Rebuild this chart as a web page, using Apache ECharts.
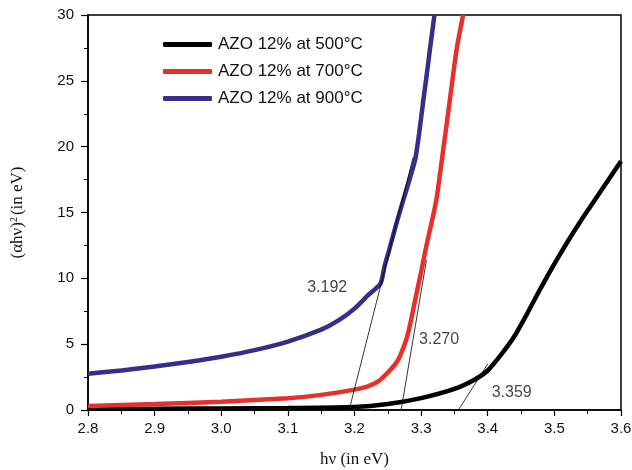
<!DOCTYPE html>
<html>
<head>
<meta charset="utf-8">
<script src="https://cdn.jsdelivr.net/npm/echarts@6/dist/echarts.min.js"></script>
<style>
html,body{margin:0;padding:0;background:#fff;}
#chart{width:632px;height:470px;}
</style>
</head>
<body>
<div id="chart"></div>
<script>
// Series names
var seriesNames = ['AZO 12% at 500°C', 'AZO 12% at 700°C', 'AZO 12% at 900°C'];
// 500°C (black)
var x500 = [2.8, 2.9, 3.0, 3.1, 3.2, 3.25, 3.3, 3.35, 3.38, 3.4, 3.42, 3.44, 3.46, 3.48, 3.5, 3.52, 3.54, 3.56, 3.58, 3.6];
var y500 = [0.1, 0.1, 0.12, 0.15, 0.22, 0.45, 0.9, 1.6, 2.3, 3.0, 4.2, 5.6, 7.4, 9.3, 11.1, 12.8, 14.4, 15.9, 17.4, 18.9];
// 700°C (red)
var x700 = [2.8, 2.9, 3.0, 3.1, 3.15, 3.2, 3.22, 3.235, 3.25, 3.263, 3.27, 3.278, 3.284, 3.29, 3.298, 3.308, 3.316, 3.323, 3.333, 3.343, 3.353, 3.363];
var y700 = [0.3, 0.45, 0.63, 0.9, 1.15, 1.55, 1.8, 2.15, 2.85, 3.6, 4.3, 5.4, 6.6, 8.1, 10.0, 12.5, 14.3, 16.0, 19.7, 23.5, 27.3, 30];
// 900°C (blue)
var x900 = [2.8, 2.85, 2.9, 2.95, 3.0, 3.05, 3.1, 3.15, 3.176, 3.2, 3.22, 3.239, 3.245, 3.252, 3.262, 3.273, 3.282, 3.291, 3.297, 3.303, 3.308, 3.313, 3.32];
var y900 = [2.75, 3.0, 3.3, 3.65, 4.05, 4.55, 5.2, 6.1, 6.8, 7.7, 8.7, 9.6, 10.9, 12.15, 14.0, 15.9, 17.4, 19.0, 21.0, 23.4, 25.3, 27.3, 30];
// Tangent (extrapolation) lines
var tanBlueX = [3.192, 3.288], tanBlueY = [0, 19.2];
var tanRedX = [3.270, 3.308], tanRedY = [0, 11.4];
var tanBlackX = [3.356, 3.400], tanBlackY = [0, 3.5];
// Band-gap annotations
var annoText = ['3.192', '3.270', '3.359'];
var annoX = [3.159, 3.327, 3.436];
var annoY = [9.26, 5.31, 1.29];
// Axis settings
var xMin = 2.8, xMax = 3.6, xStep = 0.1;
var yMin = 0, yMax = 30, yStep = 5;

function pairs(xs, ys) { return xs.map(function (x, i) { return [x, ys[i]]; }); }

var colors = ['#000000', '#e8302a', '#332f8a'];
var sansFont = '"Liberation Sans", Arial, sans-serif';
var serifFont = '"Liberation Serif", "Times New Roman", serif';

var chart = echarts.init(document.getElementById('chart'), null, {renderer: 'canvas'});

function mainSeries(name, xs, ys, color) {
  return {
    name: name, type: 'line', data: pairs(xs, ys), showSymbol: false, symbol: 'none',
    smooth: 0.2, lineStyle: {color: color, width: 4.5}, itemStyle: {color: color},
    clip: true, z: 3
  };
}
function tanSeries(xs, ys) {
  return {
    type: 'line', data: pairs(xs, ys), showSymbol: false, symbol: 'none',
    lineStyle: {color: '#000', width: 0.8}, silent: true, z: 4
  };
}

var option = {
  animation: false,
  backgroundColor: '#fff',
  grid: {left: 88, right: 11, top: 15, bottom: 60, outerBoundsMode: 'none', containLabel: false,
    show: true, borderColor: '#000', borderWidth: 1.5, backgroundColor: 'transparent'},
  legend: {
    data: seriesNames, orient: 'vertical', left: 158, top: 31,
    itemWidth: 49, itemHeight: 5, itemGap: 10, icon: 'roundRect',
    textStyle: {fontFamily: sansFont, fontSize: 17, color: '#111', padding: [0, 0, 0, 1]}
  },
  xAxis: {
    type: 'value', min: xMin, max: xMax, interval: xStep,
    name: 'hν (in eV)', nameLocation: 'middle', nameGap: 41,
    nameTextStyle: {fontFamily: serifFont, fontSize: 17, color: '#111'},
    axisLine: {show: true, lineStyle: {color: '#000', width: 1.5}},
    axisTick: {show: true, inside: false, length: 6, lineStyle: {color: '#000', width: 1.2}},
    minorTick: {show: true, splitNumber: 2, length: 4, lineStyle: {color: '#000', width: 1}},
    splitLine: {show: false},
    axisLabel: {fontFamily: sansFont, fontSize: 15, color: '#111', margin: 11,
      formatter: function (v) { return v.toFixed(1); }}
  },
  yAxis: {
    type: 'value', min: yMin, max: yMax, interval: yStep,
    name: '{n|(αhν)}{s|2}{n|(in eV)}', nameLocation: 'middle', nameGap: 61, nameRotate: 90,
    nameTextStyle: {fontFamily: serifFont, fontSize: 17, color: '#111',
      rich: {
        n: {fontFamily: serifFont, fontSize: 17, color: '#111'},
        s: {fontFamily: serifFont, fontSize: 10, color: '#111', verticalAlign: 'top', padding: [0, 2, 8, 0]}
      }},
    axisLine: {show: true, lineStyle: {color: '#000', width: 1.5}},
    axisTick: {show: true, inside: false, length: 7, lineStyle: {color: '#000', width: 1.2}},
    minorTick: {show: true, splitNumber: 2, length: 4, lineStyle: {color: '#000', width: 1}},
    splitLine: {show: false},
    axisLabel: {fontFamily: sansFont, fontSize: 15, color: '#111', margin: 14}
  },
  series: [
    mainSeries(seriesNames[0], x500, y500, colors[0]),
    mainSeries(seriesNames[1], x700, y700, colors[1]),
    mainSeries(seriesNames[2], x900, y900, colors[2]),
    tanSeries(tanBlueX, tanBlueY),
    tanSeries(tanRedX, tanRedY),
    tanSeries(tanBlackX, tanBlackY),
    {
      type: 'scatter', symbolSize: 0, silent: true, z: 5,
      data: annoX.map(function (x, i) { return {value: [x, annoY[i]], name: annoText[i]}; }),
      label: {show: true, position: 'inside', formatter: function (p) { return p.name; },
        fontFamily: sansFont, fontSize: 16, color: '#111'}
    }
  ]
};
chart.setOption(option);
</script>
</body>
</html>
